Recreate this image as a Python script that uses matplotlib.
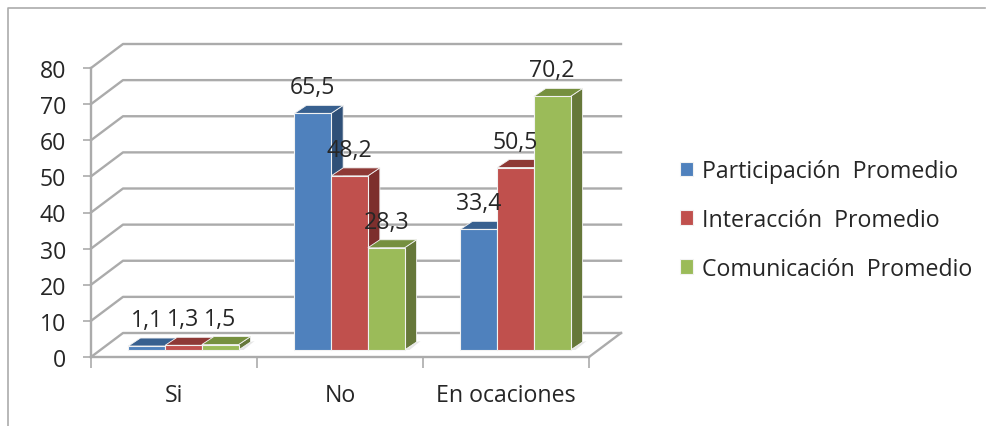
import matplotlib
matplotlib.use("Agg")
import matplotlib.pyplot as plt
from matplotlib.lines import Line2D

plt.rcParams['font.family'] = ['Open Sans', 'DejaVu Sans']

categories = ["Si", "No", "En ocaciones"]
series_names = ["Participación  Promedio", "Interacción  Promedio", "Comunicación  Promedio"]
participacion = [1.1, 65.5, 33.4]
interaccion = [1.3, 48.2, 50.5]
comunicacion = [1.5, 28.3, 70.2]
value_labels = [["1,1", "65,5", "33,4"], ["1,3", "48,2", "50,5"], ["1,5", "28,3", "70,2"]]
y_ticks = [0, 10, 20, 30, 40, 50, 60, 70, 80]

front_colors = ["#4F81BD", "#C0504D", "#9BBB59"]
side_colors = ["#2F5078", "#7D2F2D", "#66783A"]
top_colors = ["#38608F", "#8E3936", "#76903F"]
GRAY = "#ABABAB"
TEXT = "#262626"
FS = 16.7

W, H = 987, 427
L, R, B, T = 91, 589, 358, 69  # plot-box pixels
fig = plt.figure(figsize=(W / 100, H / 100), dpi=100, facecolor="white")
ax = fig.add_axes([L / W, 1 - B / H, (R - L) / W, (B - T) / H])
ax.set_xlim(0, 3)
ax.set_ylim(0, 80)
ax.patch.set_visible(False)

px_x = 3 / (R - L)     # data units per pixel
px_y = 80 / (B - T)

# walls
wall_dx, wall_dy = 32 * px_x, 24 * px_y
for v in y_ticks:
    ax.plot([0, wall_dx, 3 + wall_dx], [v, v + wall_dy, v + wall_dy],
            color=GRAY, lw=1.7, clip_on=False, zorder=1)
ax.plot([3, 3 + wall_dx], [0, wall_dy], color=GRAY, lw=1.7, clip_on=False, zorder=1)

# bars
bar_w = 36.7 * px_x
shift_x, base = 9.5 * px_x, 7 * px_y
dep_x, dep_y = 12 * px_x, 8 * px_y
z = 3
all_series = [participacion, interaccion, comunicacion]
for c in range(len(categories)):
    left_edge = c + 0.5 + shift_x - 1.5 * bar_w
    # floor shadow
    xr = left_edge + 3 * bar_w
    ax.fill([xr, xr + 5 * px_x, xr + 16 * px_x, xr + dep_x],
            [base, base, base + 9 * px_y, base + dep_y], color="#E6E6E6", lw=0, zorder=2)
    for s, vals in enumerate(all_series):
        v = vals[c]
        x0 = left_edge + s * bar_w
        x1 = x0 + bar_w
        top = base + v
        ax.fill([x1, x1 + dep_x, x1 + dep_x, x1],
                [base, base + dep_y, top + dep_y, top],
                facecolor=side_colors[s], edgecolor="#F2F2F2", lw=0.6, zorder=z)
        ax.fill([x0, x0 + dep_x, x1 + dep_x, x1],
                [top, top + dep_y, top + dep_y, top],
                facecolor=top_colors[s], edgecolor="#F2F2F2", lw=0.6, zorder=z)
        ax.bar(x0, v, width=bar_w, bottom=base, align="edge",
               color=front_colors[s], edgecolor="#F2F2F2", lw=0.8, zorder=z + 1,
               label=series_names[s])
        z += 2
for s, vals in enumerate(all_series):
    for c, v in enumerate(vals):
        xc = c + 0.5 + shift_x + (s - 1) * bar_w
        ax.annotate(value_labels[s][c], (xc, base + v), xytext=(0, 26 * 0.72),
                    textcoords="offset points", ha="center", va="center",
                    fontsize=FS, color=TEXT, zorder=100)

# axes
for sp in ["top", "right"]:
    ax.spines[sp].set_visible(False)
for sp in ["left", "bottom"]:
    ax.spines[sp].set_color(GRAY)
    ax.spines[sp].set_linewidth(1.7)
    ax.spines[sp].set_zorder(2)
ax.set_yticks(y_ticks)
ax.tick_params(axis="y", length=6, width=1.2, color=GRAY, pad=12, labelsize=FS, labelcolor=TEXT)
ax.set_xticks([0, 1, 2, 3])
ax.set_xticklabels([])
ax.set_xticks([0.5, 1.5, 2.5], minor=True)
ax.set_xticklabels(categories, minor=True)
ax.tick_params(axis="x", which="major", length=8, width=1.2, color=GRAY)
ax.tick_params(axis="x", which="minor", length=0, pad=18.5, labelsize=FS, labelcolor=TEXT)

# legend
handles, labels = ax.get_legend_handles_labels()
fig.legend(handles[:3], labels[:3], loc="upper left",
           bbox_to_anchor=(680 / W, 1 - 160 / H), frameon=False, fontsize=FS,
           labelcolor=TEXT, handlelength=0.58, handleheight=0.58, handletextpad=0.37,
           labelspacing=1.07, borderpad=0, borderaxespad=0)

# outer frame (only top and left are visible in the source)
fig.add_artist(Line2D([8.5 / W, 8.5 / W, 985 / W], [0, 1 - 8.5 / H, 1 - 8.5 / H],
                      color=GRAY, lw=1.2))

fig.savefig("out.png", dpi=100)
